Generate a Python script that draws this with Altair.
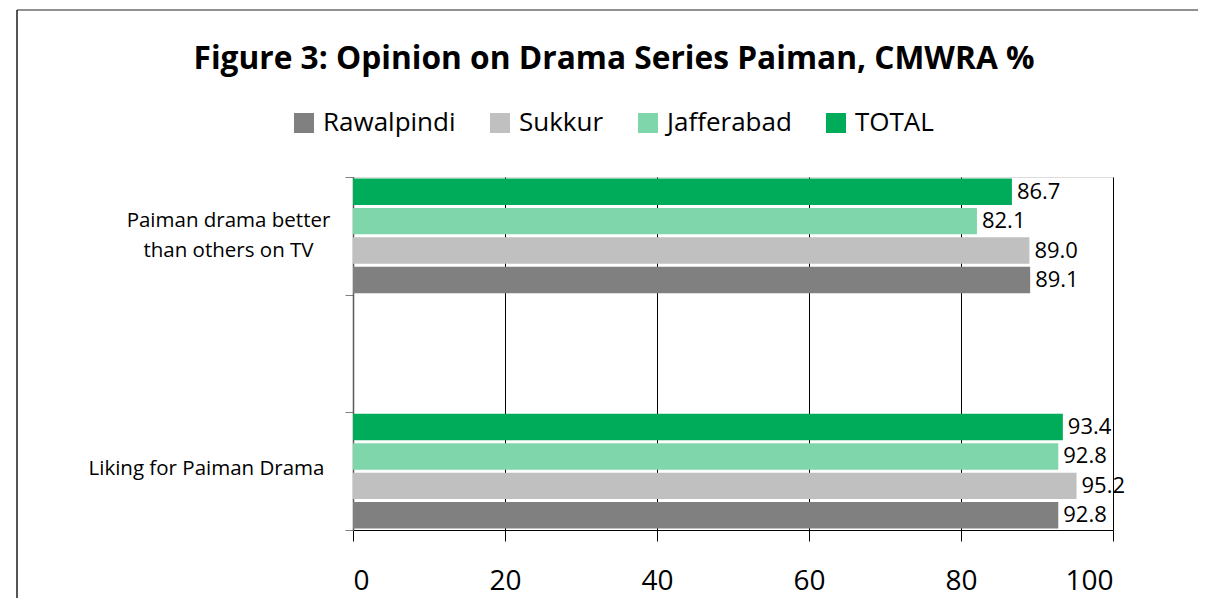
import altair as alt
import pandas as pd

categories = ["Paiman drama better than others on TV", "Liking for Paiman Drama"]
series = ["Rawalpindi", "Sukkur", "Jafferabad", "TOTAL"]
values_paiman = [89.1, 89.0, 82.1, 86.7]
values_liking = [92.8, 95.2, 92.8, 93.4]
colors = ["#808080", "#C0C0C0", "#80D6AB", "#00AB5A"]
x_ticks = [0, 20, 40, 60, 80, 100]

rows = []
for s, v in zip(series, values_paiman):
    rows.append({"cat": categories[0], "series": s, "value": v})
for s, v in zip(series, values_liking):
    rows.append({"cat": categories[1], "series": s, "value": v})
df = pd.DataFrame(rows)

y_domain = [categories[0], " ", categories[1]]
FONT = "Open Sans"

y_enc = alt.Y(
    "cat:N",
    scale=alt.Scale(domain=y_domain, paddingInner=0, paddingOuter=0),
    axis=alt.Axis(
        title=None,
        tickBand="extent",
        tickSize=8,
        tickColor="#808080",
        domainColor="#595959",
        domainWidth=1.5,
        labelFont=FONT,
        labelFontSize=20.5,
        labelColor="#000000",
        labelAlign="center",
        labelBaseline="middle",
        labelLineHeight=30,
        labelLimit=400,
        labelPadding={"condition": {"test": "datum.value == 'Liking for Paiman Drama'", "value": 139}, "value": 117},
        labelOffset={"condition": {"test": "datum.value == 'Liking for Paiman Drama'", "value": -3}, "value": -15},
        labelExpr="datum.value == 'Paiman drama better than others on TV' ? ['Paiman drama better', 'than others on TV'] : datum.label",
        grid=False,
    ),
)
yoff_enc = alt.YOffset(
    "series:N",
    scale=alt.Scale(domain=list(reversed(series)), paddingInner=0.1, paddingOuter=0.05),
)
x_enc = alt.X(
    "value:Q",
    scale=alt.Scale(domain=[0, 100], nice=False),
    axis=alt.Axis(
        title=None,
        values=x_ticks,
        tickSize=11,
        tickColor="#000000",
        domainColor="#000000",
        labelFont=FONT,
        labelFontSize=28,
        labelColor="#000000",
        labelPadding=26,
        grid=True,
        gridColor="#000000",
        gridWidth=1,
    ),
)

bars = alt.Chart(df).mark_bar().encode(
    x=x_enc,
    y=y_enc,
    yOffset=yoff_enc,
    color=alt.Color(
        "series:N",
        scale=alt.Scale(domain=series, range=colors),
        legend=alt.Legend(
            title=None,
            orient="none",
            direction="horizontal",
            legendX=-62,
            legendY=-67,
            symbolType="square",
            symbolSize=400,
            symbolStrokeWidth=0,
            labelFont=FONT,
            labelFontSize=26,
            labelColor="#000000",
            labelOffset=6,
            columnPadding=31,
        ),
    ),
)

labels = alt.Chart(df).mark_text(
    align="left", baseline="middle", dx=5, font=FONT, fontSize=22, color="#000000"
).encode(
    x=alt.X("value:Q"),
    y=alt.Y("cat:N"),
    yOffset=alt.YOffset("series:N"),
    text=alt.Text("value:Q", format=".1f"),
)

frame_data = alt.Data(values=[{"k": 1}])
left_border = alt.Chart(frame_data).mark_rule(color="#555555", strokeWidth=2).encode(
    x=alt.value(-336), y=alt.value(-167), y2=alt.value(600)
)
top_border = alt.Chart(frame_data).mark_rule(color="#222222", strokeWidth=1).encode(
    x=alt.value(-336), x2=alt.value(1000), y=alt.value(-167)
)

chart = (
    alt.layer(bars, labels, left_border, top_border)
    .properties(
        width=760,
        height=353,
        autosize=alt.AutoSizeParams(type="none"),
        padding={"left": 345, "top": 169, "right": 85, "bottom": 68},
        title=alt.Title(
            "Figure 3: Opinion on Drama Series Paiman, CMWRA %",
            font=FONT,
            fontSize=31.7,
            fontWeight="bold",
            color="#000000",
            anchor="middle",
            baseline="alphabetic",
            dx=-119,
            offset=-92,
        ),
    )
    .configure_view(stroke=None)
    .configure(background="#FFFFFF")
)

chart.save("out.html", embed_options={"renderer": "svg", "actions": False})
